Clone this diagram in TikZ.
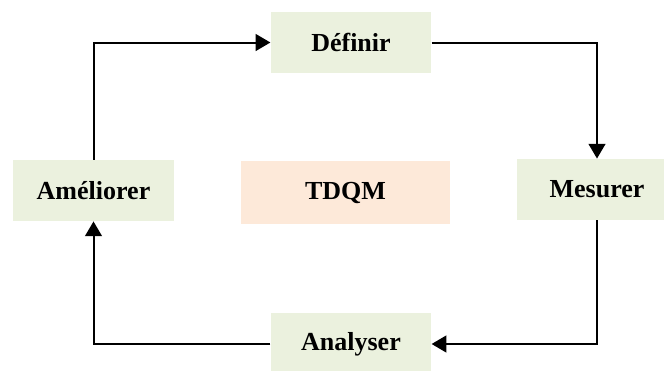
\documentclass[tikz,border=0pt]{standalone}
\usepackage{fontspec}
\setmainfont{Liberation Serif}
\usetikzlibrary{arrows.meta}

\definecolor{vertpale}{HTML}{EBF1DE}
\definecolor{saumon}{HTML}{FDE9D9}

\begin{document}
\begin{tikzpicture}[x=0.75pt, y=-0.75pt,
  etape/.style={fill=vertpale, minimum width=120.5pt, minimum height=46pt, inner sep=0pt,
    font=\fontsize{19.5}{23}\selectfont\bfseries},
  fleche/.style={line width=1.5pt, -{Triangle[length=11pt, width=12.5pt]}}]
  \useasboundingbox (0,0) rectangle (664,371);

  % Etapes
  \node[etape] (definir) at (351,42.5) {Définir};
  \node[etape] (mesurer) at (597,189.5) {Mesurer};
  \node[etape] (analyser) at (351,344) {Analyser};
  \node[etape] (ameliorer) at (93.5,190.5) {Améliorer};

  % Centre
  \node[etape, fill=saumon, minimum width=157pt, minimum height=47pt] (tdqm) at (345.5,192.5) {TDQM};

  % Cycle
  \draw[fleche] (ameliorer.north) |- (definir.west);
  \draw[fleche] (definir.east) -| (mesurer.north);
  \draw[fleche] (mesurer.south) |- (analyser.east);
  \draw[fleche] (analyser.west) -| (ameliorer.south);
\end{tikzpicture}
\end{document}
